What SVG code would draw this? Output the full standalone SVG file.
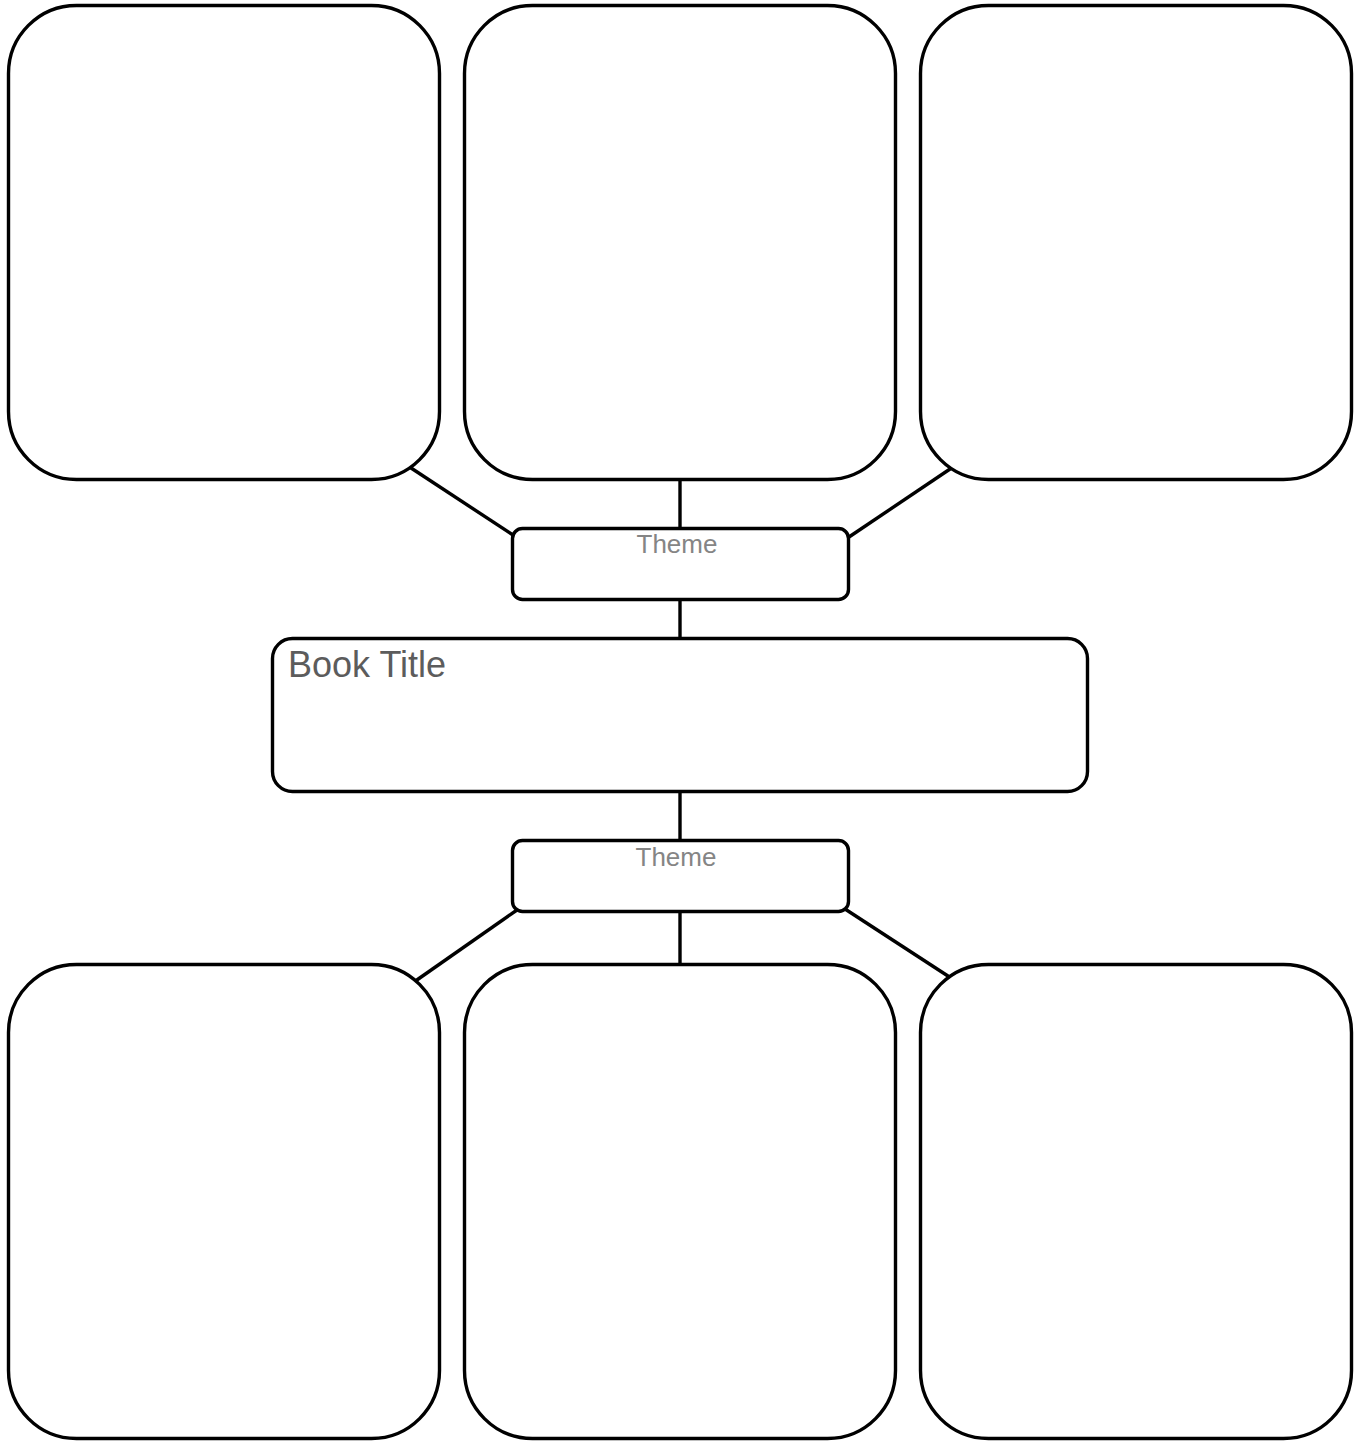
<svg xmlns="http://www.w3.org/2000/svg" width="1361" height="1441" viewBox="0 0 1361 1441">
<style>
.big{fill:#fff;stroke:#000;stroke-width:3.4}
.theme{fill:#fff;stroke:#000;stroke-width:3.4}
.ln{stroke:#000;stroke-width:3.4;fill:none}
.tt{font-family:"Liberation Sans",Arial,sans-serif;font-size:26px;fill:#858585}
.bt{font-family:"Liberation Sans",Arial,sans-serif;font-size:36px;fill:#5c5c5c}
</style>
<rect width="1361" height="1441" fill="#fff"/>
<g id="connectors">
<line class="ln" x1="408" y1="466" x2="513" y2="535"/>
<line class="ln" x1="680" y1="480" x2="680" y2="528"/>
<line class="ln" x1="953" y1="467" x2="849" y2="537"/>
<line class="ln" x1="680" y1="600" x2="680" y2="638"/>
<line class="ln" x1="680" y1="792" x2="680" y2="840"/>
<line class="ln" x1="517" y1="910" x2="414" y2="982"/>
<line class="ln" x1="680" y1="912" x2="680" y2="965"/>
<line class="ln" x1="845" y1="909" x2="951" y2="978"/>
</g>
<g id="box-top-left"><rect class="big" x="8.5" y="5.5" width="431" height="474" rx="68"/></g>
<g id="box-top-center"><rect class="big" x="464.5" y="5.5" width="431" height="474" rx="68"/></g>
<g id="box-top-right"><rect class="big" x="920.5" y="5.5" width="431" height="474" rx="68"/></g>
<g id="theme-top"><rect class="theme" x="512.5" y="528.5" width="336" height="71" rx="10"/><text class="tt" x="677" y="553" text-anchor="middle">Theme</text></g>
<g id="book-title"><rect class="theme" x="272.5" y="638.5" width="815" height="153" rx="20"/><text class="bt" x="288" y="677">Book Title</text></g>
<g id="theme-bottom"><rect class="theme" x="512.5" y="840.5" width="336" height="71" rx="10"/><text class="tt" x="676" y="866" text-anchor="middle">Theme</text></g>
<g id="box-bottom-left"><rect class="big" x="8.5" y="964.5" width="431" height="474" rx="68"/></g>
<g id="box-bottom-center"><rect class="big" x="464.5" y="964.5" width="431" height="474" rx="68"/></g>
<g id="box-bottom-right"><rect class="big" x="920.5" y="964.5" width="431" height="474" rx="68"/></g>
</svg>
